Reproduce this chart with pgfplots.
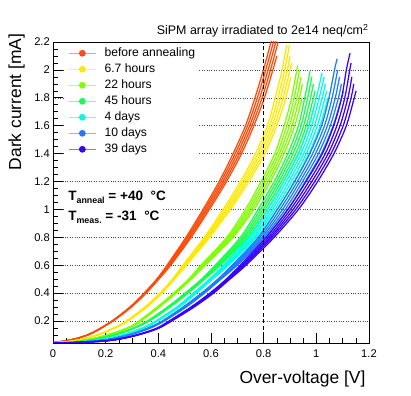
\documentclass[border=0pt]{standalone}
\usepackage{fontspec}
\setmainfont{Liberation Sans}
\usepackage{pgfplots}
\usepackage{pgfplotstable}
\pgfplotsset{compat=1.18}

\definecolor{cA}{RGB}{255,74,10}
\definecolor{cB}{RGB}{255,232,0}
\definecolor{cC}{RGB}{128,255,0}
\definecolor{cD}{RGB}{25,255,75}
\definecolor{cE}{RGB}{0,255,225}
\definecolor{cF}{RGB}{25,125,255}
\definecolor{cG}{RGB}{55,0,255}

% dark current I [mA] vs over-voltage V1..V5 [V], five SiPMs per step
\pgfplotstableread{
I V1 V2 V3 V4 V5
0.045 0 0 0 0 0
0.058 0.048 0.049 0.050 0.051 0.052
0.080 0.098 0.099 0.100 0.101 0.102
0.115 0.148 0.149 0.150 0.151 0.152
0.2 0.224 0.225 0.226 0.227 0.228
0.3 0.292 0.294 0.295 0.296 0.298
0.4 0.346 0.348 0.350 0.352 0.354
0.5 0.394 0.396 0.398 0.400 0.402
0.6 0.433 0.437 0.440 0.443 0.447
0.8 0.505 0.510 0.515 0.520 0.525
1.0 0.570 0.576 0.582 0.588 0.594
1.2 0.631 0.638 0.645 0.652 0.659
1.4 0.684 0.692 0.700 0.708 0.716
1.6 0.731 0.739 0.747 0.755 0.763
1.8 0.767 0.776 0.785 0.794 0.803
2.0 0.799 0.808 0.817 0.826 0.835
2.1 nan nan nan nan 0.850
2.2 0.828 0.837 0.846 0.855 nan
2.3 0.842 0.851 0.860 nan nan
}\tabA
\pgfplotstableread{
I V1 V2 V3 V4 V5
0.043 0 0 0 0 0
0.050 0.048 0.049 0.050 0.051 0.052
0.065 0.098 0.099 0.100 0.101 0.102
0.088 0.148 0.149 0.150 0.151 0.152
0.122 0.198 0.199 0.200 0.201 0.202
0.165 0.248 0.249 0.250 0.251 0.252
0.2 0.279 0.281 0.282 0.283 0.285
0.3 0.349 0.351 0.353 0.355 0.357
0.4 0.406 0.408 0.410 0.412 0.414
0.5 0.454 0.456 0.458 0.460 0.462
0.6 0.493 0.497 0.500 0.503 0.507
0.8 0.575 0.580 0.585 0.590 0.595
1.0 0.646 0.653 0.660 0.667 0.674
1.2 0.712 0.720 0.728 0.736 0.744
1.4 0.769 0.778 0.787 0.796 0.805
1.6 0.814 0.823 0.832 0.841 0.850
1.8 0.844 0.854 0.864 0.874 0.884
1.95 nan nan nan nan 0.903
2.0 0.870 0.880 0.890 0.900 nan
2.05 nan nan nan 0.905 nan
2.1 nan nan 0.900 nan nan
2.18 0.888 0.898 nan nan nan
}\tabB
\pgfplotstableread{
I V1 V2 V3 V4 V5
0.042 0 0 0 0 0
0.046 0.048 0.049 0.050 0.051 0.052
0.056 0.098 0.099 0.100 0.101 0.102
0.072 0.148 0.149 0.150 0.151 0.152
0.095 0.198 0.199 0.200 0.201 0.202
0.125 0.248 0.249 0.250 0.251 0.252
0.163 0.297 0.299 0.300 0.301 0.303
0.2 0.327 0.329 0.331 0.333 0.335
0.3 0.396 0.398 0.400 0.402 0.404
0.4 0.458 0.461 0.463 0.465 0.468
0.5 0.515 0.518 0.520 0.522 0.525
0.6 0.562 0.566 0.570 0.574 0.578
0.8 0.660 0.666 0.672 0.678 0.684
1.0 0.731 0.739 0.747 0.755 0.763
1.2 0.790 0.799 0.808 0.817 0.826
1.4 0.842 0.851 0.860 0.869 0.878
1.6 0.878 0.888 0.898 0.908 0.918
1.8 0.906 0.916 0.926 0.936 0.946
1.9 nan nan nan 0.947 nan
1.95 nan nan 0.942 nan nan
2.0 0.926 0.936 nan nan nan
2.02 0.929 nan nan nan nan
}\tabC
\pgfplotstableread{
I V1 V2 V3 V4 V5
0.042 0 0 0 0 0
0.045 0.048 0.049 0.050 0.051 0.052
0.052 0.098 0.099 0.100 0.101 0.102
0.065 0.148 0.149 0.150 0.151 0.152
0.084 0.198 0.199 0.200 0.201 0.202
0.110 0.248 0.249 0.250 0.251 0.252
0.143 0.297 0.299 0.300 0.301 0.303
0.2 0.358 0.360 0.362 0.364 0.366
0.3 0.435 0.438 0.440 0.442 0.445
0.4 0.502 0.505 0.508 0.511 0.514
0.5 0.564 0.567 0.570 0.573 0.576
0.6 0.616 0.621 0.626 0.631 0.636
0.8 0.712 0.719 0.726 0.733 0.740
1.0 0.779 0.788 0.797 0.806 0.815
1.2 0.840 0.849 0.858 0.867 0.876
1.4 0.892 0.902 0.912 0.922 0.932
1.6 0.932 0.942 0.952 0.962 0.972
1.75 nan nan nan nan 0.993
1.8 0.956 0.967 0.978 0.989 nan
1.85 nan nan nan 0.995 nan
1.9 nan nan 0.989 nan nan
1.95 nan 0.983 nan nan nan
1.99 0.976 nan nan nan nan
}\tabD
\pgfplotstableread{
I V1 V2 V3 V4 V5
0.042 0 0 0 0 0
0.044 0.048 0.049 0.050 0.051 0.052
0.049 0.098 0.099 0.100 0.101 0.102
0.058 0.148 0.149 0.150 0.151 0.152
0.071 0.198 0.199 0.200 0.201 0.202
0.092 0.248 0.249 0.250 0.251 0.252
0.120 0.297 0.299 0.300 0.301 0.303
0.155 0.346 0.348 0.350 0.352 0.354
0.2 0.390 0.392 0.394 0.396 0.398
0.3 0.470 0.473 0.475 0.477 0.480
0.4 0.533 0.536 0.539 0.542 0.545
0.5 0.594 0.597 0.600 0.603 0.606
0.6 0.647 0.652 0.657 0.662 0.667
0.8 0.745 0.752 0.759 0.766 0.773
1.0 0.816 0.825 0.834 0.843 0.852
1.2 0.876 0.886 0.896 0.906 0.916
1.4 0.932 0.942 0.952 0.962 0.972
1.6 0.971 0.982 0.993 1.004 1.015
1.8 1.000 1.011 1.022 1.033 1.044
1.85 nan nan nan 1.040 nan
1.9 nan nan 1.035 nan nan
1.95 nan 1.030 nan nan nan
1.98 1.022 nan nan nan nan
}\tabE
\pgfplotstableread{
I V1 V2 V3 V4 V5
0.042 0 0 0 0 0
0.044 0.048 0.049 0.050 0.051 0.052
0.048 0.098 0.099 0.100 0.101 0.102
0.055 0.148 0.149 0.150 0.151 0.152
0.064 0.198 0.199 0.200 0.201 0.202
0.082 0.248 0.249 0.250 0.251 0.252
0.106 0.297 0.299 0.300 0.301 0.303
0.138 0.346 0.348 0.350 0.352 0.354
0.170 0.386 0.388 0.390 0.392 0.394
0.2 0.415 0.417 0.419 0.421 0.423
0.3 0.494 0.497 0.500 0.503 0.506
0.4 0.564 0.567 0.570 0.573 0.576
0.5 0.626 0.629 0.632 0.635 0.638
0.6 0.680 0.685 0.690 0.695 0.700
0.8 0.780 0.787 0.794 0.801 0.808
1.0 0.852 0.862 0.872 0.882 0.892
1.2 0.918 0.928 0.938 0.948 0.958
1.4 0.975 0.986 0.997 1.008 1.019
1.6 1.020 1.031 1.042 1.053 1.064
1.8 1.048 1.060 1.072 1.084 1.096
1.85 nan nan nan nan 1.102
1.9 nan nan nan 1.095 nan
1.95 nan nan 1.088 nan nan
2.0 1.069 1.081 nan nan nan
2.08 1.079 nan nan nan nan
}\tabF
\pgfplotstableread{
I V1 V2 V3 V4 V5
0.042 0 0 0 0 0
0.043 0.048 0.049 0.050 0.051 0.052
0.046 0.098 0.099 0.100 0.101 0.102
0.051 0.148 0.149 0.150 0.151 0.152
0.057 0.198 0.199 0.200 0.201 0.202
0.070 0.248 0.249 0.250 0.251 0.252
0.090 0.297 0.299 0.300 0.301 0.303
0.116 0.346 0.348 0.350 0.352 0.354
0.150 0.396 0.398 0.400 0.402 0.404
0.2 0.441 0.444 0.446 0.448 0.451
0.3 0.524 0.527 0.530 0.533 0.536
0.4 0.596 0.600 0.603 0.606 0.610
0.5 0.658 0.662 0.665 0.668 0.672
0.6 0.711 0.717 0.722 0.727 0.733
0.8 0.810 0.818 0.825 0.832 0.840
1.0 0.892 0.902 0.912 0.922 0.932
1.2 0.961 0.972 0.983 0.994 1.005
1.4 1.023 1.034 1.045 1.056 1.067
1.6 1.066 1.078 1.090 1.102 1.114
1.8 1.096 1.108 1.120 1.132 1.144
1.85 nan nan nan nan 1.151
1.9 nan nan nan 1.142 nan
1.95 nan nan 1.135 nan nan
2.0 1.114 1.127 nan nan nan
2.05 nan 1.132 nan nan nan
2.12 1.128 nan nan nan nan
}\tabG

\pgfplotsset{
  legline/.style={draw=#1!55!white, line width=1.3bp, mark=*, mark size=2.7bp,
                  mark options={draw=#1, fill=#1, solid}},
  curve/.style={#1, line width=1.25bp, smooth, forget plot},
}

\begin{document}
\begin{tikzpicture}
\path[use as bounding box] (-53bp,-53bp) rectangle (358bp,343bp);
\begin{axis}[
  at={(0,0)}, anchor=south west,
  scale only axis, width=316bp, height=301bp,
  xmin=0, xmax=1.2, ymin=0.042, ymax=2.2,
  xtick={0,0.2,0.4,0.6,0.8,1,1.2},
  ytick={0.2,0.4,0.6,0.8,1,1.2,1.4,1.6,1.8,2,2.2},
  minor xtick={0.05,0.1,...,1.16},
  minor ytick={0.05,0.1,...,2.16},
  tick pos=left, tick align=inside,
  major tick length=9.5bp, minor tick length=4.75bp,
  tick style={black, line width=0.6bp},
  axis line style={black, line width=0.8bp},
  ymajorgrids,
  major grid style={black!70, line width=0.5bp, dash pattern=on 0.8bp off 1.6bp},
  /pgf/number format/assume math mode=true,
  ticklabel style={font=\fontsize{11.2}{13}\selectfont},
  xticklabel style={anchor=north, inner sep=0pt, yshift=-6.5bp},
  yticklabel style={anchor=east, inner sep=0pt, xshift=-3bp},
  legend cell align=left,
  legend style={draw=none, fill=white, at={(0.038,0.993)}, anchor=north west,
    inner xsep=3bp, inner ysep=3bp, font=\fontsize{12.2}{14}\selectfont,
    row sep=4bp, column sep=8bp,
    nodes={inner sep=0bp, text height=9.3bp, text depth=2.7bp}},
  legend image code/.code={
    \draw[#1, mark=none] (0bp,0bp) -- (27bp,0bp);
    \draw[#1] plot coordinates {(13.5bp,0bp)};},
]
\pgfplotsinvokeforeach{V1,V2,V3,V4,V5}{\addplot[curve=cA] table[x=#1,y=I]{\tabA};}
\pgfplotsinvokeforeach{V1,V2,V3,V4,V5}{\addplot[curve=cB] table[x=#1,y=I]{\tabB};}
\pgfplotsinvokeforeach{V1,V2,V3,V4,V5}{\addplot[curve=cC] table[x=#1,y=I]{\tabC};}
\pgfplotsinvokeforeach{V1,V2,V3,V4,V5}{\addplot[curve=cD] table[x=#1,y=I]{\tabD};}
\pgfplotsinvokeforeach{V1,V2,V3,V4,V5}{\addplot[curve=cE] table[x=#1,y=I]{\tabE};}
\pgfplotsinvokeforeach{V1,V2,V3,V4,V5}{\addplot[curve=cF] table[x=#1,y=I]{\tabF};}
\pgfplotsinvokeforeach{V1,V2,V3,V4,V5}{\addplot[curve=cG] table[x=#1,y=I]{\tabG};}

\addplot[black, line width=1.5bp, dash pattern=on 4bp off 2.5bp, forget plot]
  coordinates {(0.8,0.042) (0.8,2.2)};

\addlegendimage{legline=cA}\addlegendentry{before annealing\hspace{22bp}}
\addlegendimage{legline=cB}\addlegendentry{6.7 hours}
\addlegendimage{legline=cC}\addlegendentry{22 hours}
\addlegendimage{legline=cD}\addlegendentry{45 hours}
\addlegendimage{legline=cE}\addlegendentry{4 days}
\addlegendimage{legline=cF}\addlegendentry{10 days}
\addlegendimage{legline=cG}\addlegendentry{39 days}

\node[fill=white, inner xsep=3bp, inner ysep=3.5bp, anchor=base west,
      font=\bfseries\fontsize{13.6}{16}\selectfont] at (axis cs:0.046,1.061)
  {T\raisebox{-2.7bp}{\fontsize{8.9}{10}\selectfont anneal} = +40\ \ °C};
\node[fill=white, inner xsep=3bp, inner ysep=3.5bp, anchor=base west,
      font=\bfseries\fontsize{13.6}{16}\selectfont] at (axis cs:0.046,0.918)
  {T\raisebox{-2.7bp}{\fontsize{8.9}{10}\selectfont meas.} = -31\ \ °C};
\end{axis}

\node[anchor=base east, font=\fontsize{12.5}{15}\selectfont] at (319bp,308bp)
  {SiPM array irradiated to 2e14 neq/cm\textsuperscript{2}};
\node[anchor=base east, font=\fontsize{17.5}{20}\selectfont] at (316bp,-40bp)
  {Over-voltage [V]};
\node[anchor=base east, rotate=90, font=\fontsize{17.5}{20}\selectfont] at (-32bp,313bp)
  {Dark current [mA]};
\end{tikzpicture}
\end{document}
